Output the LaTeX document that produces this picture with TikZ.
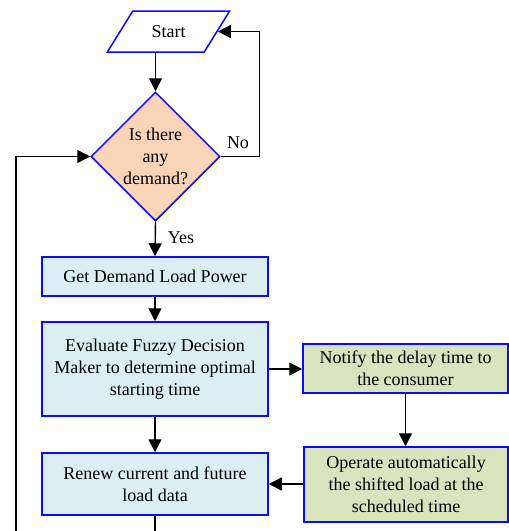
\documentclass[tikz,border=0pt]{standalone}
\usepackage{fontspec}
\setmainfont{Liberation Serif}
\usetikzlibrary{shapes.geometric,arrows.meta}
\definecolor{bfill}{HTML}{DAEEF3}
\definecolor{gfill}{HTML}{D7E4BD}
\definecolor{ofill}{HTML}{FAD4B6}
\definecolor{bline}{HTML}{0A0AFF}
\begin{document}
\begin{tikzpicture}[x=1pt,y=-1pt,
  every node/.style={font=\fontsize{18}{22}\selectfont, align=center},
  box/.style={draw=bline, line width=1.5pt, rectangle, inner sep=0pt},
  bluebox/.style={box, fill=bfill, minimum width=226pt},
  greenbox/.style={box, fill=gfill},
  conn/.style={line width=1.4pt, -{Triangle[length=13pt,width=13pt]}}
]
\useasboundingbox (0,0) rectangle (509,531);
\clip (0,0) rectangle (509,531);
\node[draw=bline, line width=1.5pt, shape=trapezium, trapezium left angle=45, trapezium right angle=135,
      trapezium stretches=true, minimum width=123pt, minimum height=41pt, inner sep=0pt] (start) at (168.5,31.5) {Start};
\node[draw=bline, line width=1.5pt, fill=ofill, shape=diamond, minimum width=129pt, minimum height=129pt,
      inner sep=0pt, aspect=1] (dem) at (155.5,156.5) {Is there\\any\\demand?};
\node[bluebox, minimum height=39pt] (get) at (155,276.5) {Get Demand Load Power};
\node[bluebox, minimum height=94pt] (eval) at (155,369) {Evaluate Fuzzy Decision\\Maker to determine optimal\\starting time};
\node[bluebox, minimum height=62pt] (renew) at (155,484) {Renew current and future\\load data};
\node[greenbox, minimum width=205pt, minimum height=49pt] (notify) at (405.5,368.5) {Notify the delay time to\\the consumer};
\node[greenbox, minimum width=204pt, minimum height=75pt] (oper) at (406,484.5) {Operate automatically\\the shifted load at the\\scheduled time};

\draw[conn] (dem.north |- start.south) -- (dem.north);
\draw[conn] (dem.east) -- ++(39,0) |- (start.east);
\node (no) at (238,143) {No};
\draw[conn] (dem.south) -- (get.north);
\node (yes) at (181,238) {Yes};
\draw[conn] (get.south) -- (eval.north);
\draw[conn] (eval.east) -- (notify.west |- eval.east);
\draw[conn] (notify.south) -- (notify.south |- oper.north);
\draw[conn] (oper.west |- renew.east) -- (renew.east);
\draw[conn] (eval.south) -- (renew.north);
\draw[conn] (renew.south) -- ++(0,40) -| (16,156.5) -- (dem.west);
\end{tikzpicture}
\end{document}
